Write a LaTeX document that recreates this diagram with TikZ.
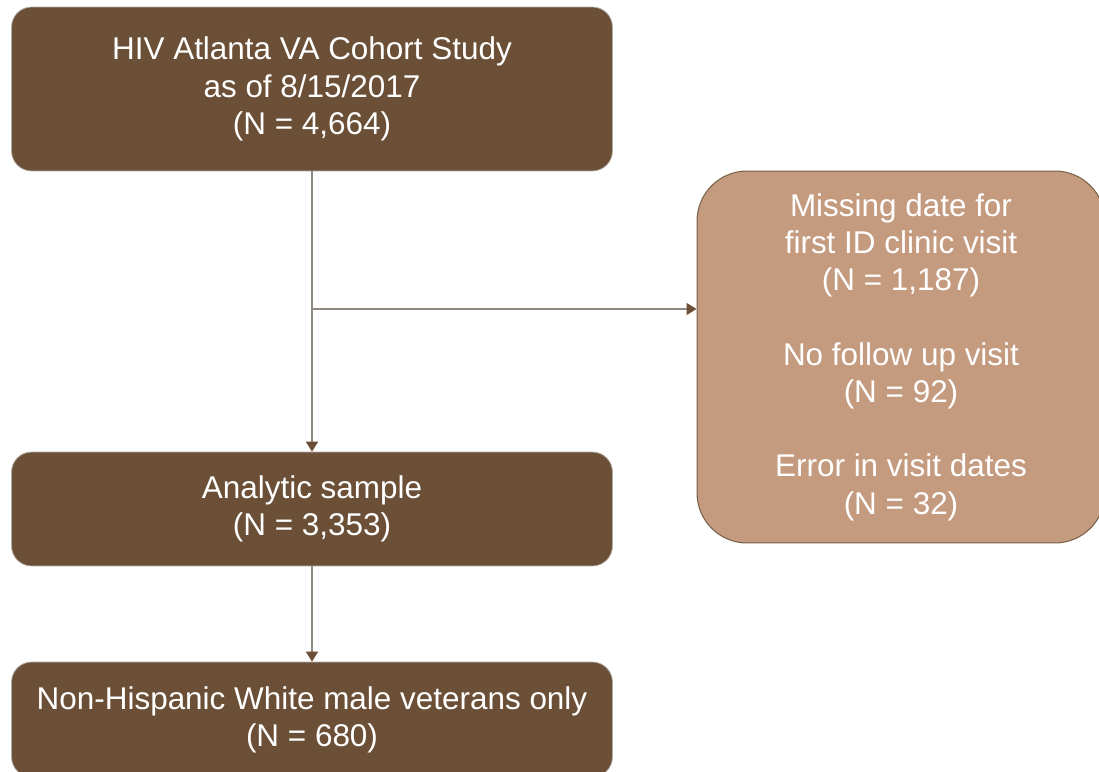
\documentclass[tikz,border=0pt]{standalone}
\usepackage{fontspec}
\setmainfont{Liberation Sans}
\usetikzlibrary{arrows.meta}
\definecolor{darkbrown}{RGB}{107,80,55}
\definecolor{lightbrown}{RGB}{197,155,128}
\definecolor{linegray}{RGB}{145,136,128}
\definecolor{edgebrown}{RGB}{120,98,72}

\begin{document}
\begin{tikzpicture}[x=0.02cm,y=-0.02cm,
  darkbox/.style={draw=linegray!70,line width=0.4pt,fill=darkbrown,text=white,rounded corners=0.4cm,
    align=center,inner sep=0pt,minimum width=12.02cm,font=\fontsize{17.9}{21.2}\selectfont},
  sidebox/.style={draw=edgebrown,line width=0.6pt,fill=lightbrown,text=white,rounded corners=1cm,
    align=center,inner sep=0pt,minimum width=8.16cm,minimum height=7.44cm,font=\fontsize{17.9}{21.2}\selectfont},
  flow/.style={draw=linegray,line width=0.8pt,-{Triangle[length=0.2cm,width=0.24cm,color=darkbrown]}}]
\useasboundingbox (0,0) rectangle (1099,771);
\begin{scope}
\clip (0,0) rectangle (1099,771);
\node[darkbox,minimum height=3.28cm] (cohort) at (312,89) {HIV Atlanta VA Cohort Study\\as of 8/15/2017\\(N = 4,664)};
\node[darkbox,minimum height=2.28cm] (analytic) at (312,509) {Analytic sample\\(N = 3,353)};
\node[darkbox,minimum height=2.3cm] (whitemale) at (312,719.5) {Non-Hispanic White male veterans only\\(N = 680)};
\node[sidebox] (excluded) at (901,357) {Missing date for\\first ID clinic visit\\(N = 1,187)\\[21.2pt]No follow up visit\\(N = 92)\\[21.2pt]Error in visit dates\\(N = 32)};
\coordinate (split) at (312,309);
\draw[flow] (cohort.south) -- (analytic.north);
\draw[flow] (split) -- (split -| excluded.west);
\draw[flow] (analytic.south) -- (whitemale.north);
\end{scope}

\end{tikzpicture}
\end{document}
